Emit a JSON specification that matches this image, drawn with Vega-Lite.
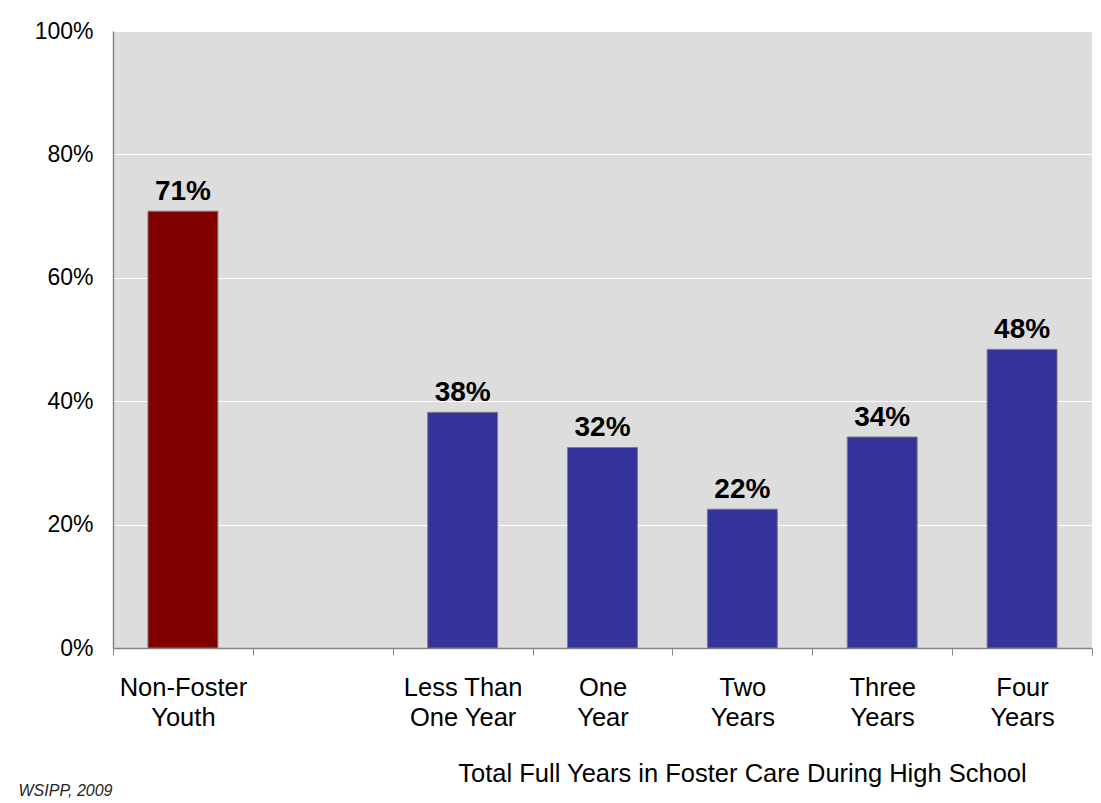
{
  "$schema": "https://vega.github.io/schema/vega-lite/v6.json",
  "description": "Share of youth by total full years in foster care during high school",
  "autosize": {"type": "none"},
  "padding": {"left": 113, "top": 31, "right": 9, "bottom": 155},
  "width": 979,
  "height": 617,
  "background": "#ffffff",
  "data": {
    "values": [
      {"category": "Non-Foster Youth", "group": "Non-Foster", "rate": 0.708, "label": "71%"},
      {"category": "Less Than One Year", "group": "Foster", "rate": 0.382, "label": "38%"},
      {"category": "One Year", "group": "Foster", "rate": 0.325, "label": "32%"},
      {"category": "Two Years", "group": "Foster", "rate": 0.225, "label": "22%"},
      {"category": "Three Years", "group": "Foster", "rate": 0.342, "label": "34%"},
      {"category": "Four Years", "group": "Foster", "rate": 0.484, "label": "48%"}
    ]
  },
  "encoding": {
    "x": {
      "field": "category",
      "type": "nominal",
      "sort": null,
      "scale": {
        "domain": ["Non-Foster Youth", " ", "Less Than One Year", "One Year", "Two Years", "Three Years", "Four Years"],
        "paddingInner": 0,
        "paddingOuter": 0
      },
      "axis": {
        "title": "Total Full Years in Foster Care During High School",
        "titleX": 629,
        "titleY": 133,
        "titleAlign": "center",
        "titleBaseline": "alphabetic",
        "titleFontSize": 25.5,
        "titleFontWeight": "normal",
        "titleColor": "#000000",
        "labelAngle": 0,
        "labelFontSize": 25.5,
        "labelColor": "#000000",
        "labelPadding": 20,
        "labelLineHeight": 30,
        "labelBaseline": "top",
        "labelExpr": "datum.label == 'Less Than One Year' ? ['Less Than', 'One Year'] : split(datum.label, ' ')",
        "tickBand": "extent",
        "tickSize": 7,
        "tickColor": "#868686",
        "tickWidth": 1,
        "domainColor": "#868686",
        "domainWidth": 1.5,
        "grid": false
      }
    },
    "y": {
      "field": "rate",
      "type": "quantitative",
      "scale": {"domain": [0, 1], "nice": false},
      "axis": {
        "values": [0, 0.2, 0.4, 0.6, 0.8, 1],
        "format": ".0%",
        "title": "WSIPP, 2009",
        "titleAngle": 0,
        "titleX": -95,
        "titleY": 764,
        "titleAlign": "left",
        "titleBaseline": "alphabetic",
        "titleFontSize": 16,
        "titleFontStyle": "italic",
        "titleFontWeight": "normal",
        "titleColor": "#222222",
        "labelFontSize": 23,
        "labelColor": "#000000",
        "labelPadding": 20,
        "ticks": false,
        "tickSize": 0,
        "domainColor": "#868686",
        "domainWidth": 1.5,
        "grid": true,
        "gridColor": "#ffffff",
        "gridWidth": 1
      }
    }
  },
  "layer": [
    {
      "mark": {"type": "bar", "width": {"band": 0.5}, "stroke": "#7f7f7f", "strokeWidth": 1},
      "encoding": {
        "color": {
          "field": "group",
          "type": "nominal",
          "scale": {"domain": ["Non-Foster", "Foster"], "range": ["#800000", "#333399"]},
          "legend": null
        }
      }
    },
    {
      "mark": {
        "type": "text",
        "baseline": "alphabetic",
        "dy": -11,
        "fontSize": 28,
        "fontWeight": "bold",
        "color": "#000000"
      },
      "encoding": {
        "text": {"field": "label"}
      }
    }
  ],
  "config": {
    "font": "Liberation Sans",
    "view": {"fill": "#dddddd", "stroke": null}
  }
}
